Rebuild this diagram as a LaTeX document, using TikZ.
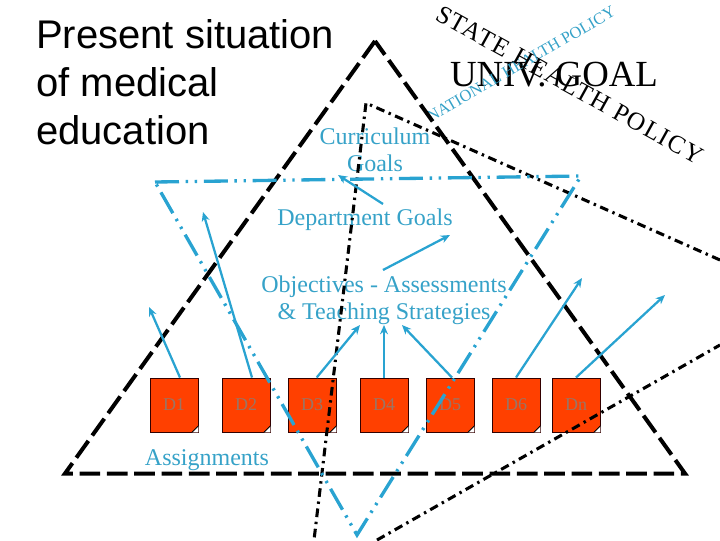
\documentclass[tikz,border=0pt]{standalone}
\usepackage{fontspec}
\setmainfont{Liberation Serif}
\newfontfamily\arialf{Liberation Sans}
\newfontfamily\spaced[LetterSpace=6]{Liberation Serif}
\usetikzlibrary{arrows.meta}
\definecolor{bl}{HTML}{29A3D1}
\definecolor{tb}{HTML}{36A2C8}
\definecolor{sq}{HTML}{FF4000}
\definecolor{sqt}{HTML}{9A7565}
\tikzset{
  x=0.75pt,y=-0.75pt,
  bigdash/.style={black,line width=3pt,dash pattern=on 15.5pt off 5pt},
  blackdd/.style={black,line width=2.3pt,dash pattern=on 6.5pt off 3.5pt on 1.8pt off 3.5pt},
  bluedd/.style={bl,line width=2.5pt,dash pattern=on 18pt off 5pt on 1.8pt off 5pt on 1.8pt off 5pt},
  arr/.style={bl,line width=1.7pt,-{Stealth[length=7pt,width=6pt]}},
  lbl/.style={text=tb,font=\fontsize{18pt}{20.5pt}\selectfont,align=center,inner sep=0pt},
  doc/.style={draw=black!80!red,fill=sq,line width=0.7pt,minimum width=36pt,minimum height=40.5pt,inner sep=0pt,text=sqt,font=\fontsize{13.5pt}{16pt}\selectfont},
}
\newcommand{\docbox}[3]{%
  \node[doc] (#1) at (#2,405) {#3};
  \fill[white] ([xshift=-5pt]#1.south east) -- (#1.south east) -- ([yshift=5pt]#1.south east) -- cycle;
  \draw[black,fill=sq!50!white,line width=0.6pt] ([xshift=-5pt]#1.south east) -- ([xshift=-1pt,yshift=4pt]#1.south east) -- ([yshift=5pt]#1.south east) -- cycle;
}
\begin{document}
\begin{tikzpicture}
\useasboundingbox (0,0) rectangle (720,540);
\node[anchor=west,inner sep=0pt,align=left,font=\arialf\fontsize{30pt}{36pt}\selectfont] (title) at (36,82)
  {Present situation\\of medical\\education};
\docbox{D1}{174}{D1}
\docbox{D2}{246}{D2}
\docbox{D3}{312}{D3}
\docbox{D4}{384}{D4}
\docbox{D5}{450}{D5}
\docbox{D6}{516}{D6}
\docbox{Dn}{576}{Dn}
\node[inner sep=0pt,font=\fontsize{27.6pt}{30pt}\selectfont] (univ) at (554,75) {UNIV. GOAL};
\node[rotate=30,inner sep=0pt,text=tb,font=\fontsize{12.3pt}{14pt}\selectfont] (nat) at (521,64) {NATIONAL HEALTH POLICY};
\node[rotate=-29,inner sep=0pt,font=\spaced\fontsize{19pt}{20pt}\selectfont] (state) at (570,85) {STATE HEALTH POLICY};
\node[lbl] (curr) at (375,150) {Curriculum\\Goals};
\node[lbl] (dept) at (365,220) {Department Goals};
\node[lbl] (obj) at (384,300) {Objectives - Assessments\\\& Teaching Strategies};
\node[lbl] (assign) at (207,460) {Assignments};
% big triangle
\coordinate (T1) at (375,41);
\coordinate (T2) at (65,473.5);
\coordinate (T3) at (685,473.5);
\draw[bigdash] (T1) -- (T2) -- (T3) -- (T1);
% dash-dot black
\coordinate (K1) at (366,103);
\coordinate (K2) at (314,540);
\coordinate (K3) at (720,345);
\coordinate (K4) at (377,540);
\coordinate (K5) at (720,260);
\draw[blackdd] (K5) -- (K1) -- (K2);
\draw[blackdd] (K4) -- (K3);
% blue triangle
\coordinate (B1) at (155,182);
\coordinate (B2) at (581,176);
\coordinate (B3) at (357,535);
\draw[bluedd] (B1) -- (B2) -- (B3) -- cycle;
% arrows
\coordinate (a1) at (149,307);
\coordinate (a2) at (203,212);
\coordinate (a3) at (360,325);
\coordinate (a4) at (384,325);
\coordinate (a5) at (402,325);
\coordinate (a6) at (582,278);
\coordinate (a7) at (665,295);
\coordinate (a8) at (338,175);
\coordinate (a9) at (450,235);
\coordinate (s8) at (383,204);
\coordinate (s9) at (383,270);
\draw[arr] ([xshift=4.5pt]D1.north) -- (a1);
\draw[arr] ([xshift=4.5pt]D2.north) -- (a2);
\draw[arr] ([xshift=3.5pt]D3.north) -- (a3);
\draw[arr] (D4.north) -- (a4);
\draw[arr] ([xshift=1.5pt]D5.north) -- (a5);
\draw[arr] (D6.north) -- (a6);
\draw[arr] (Dn.north) -- (a7);
\draw[arr] (s8) -- (a8);
\draw[arr] (s9) -- (a9);
\end{tikzpicture}
\end{document}
